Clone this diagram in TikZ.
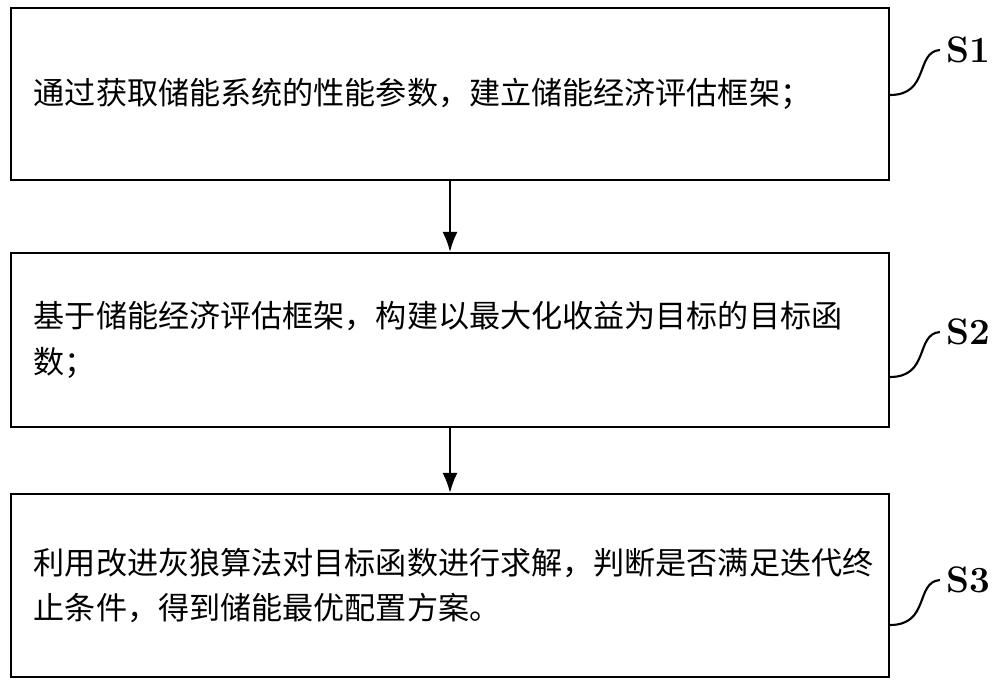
\documentclass[tikz,border=0pt]{standalone}
\usepackage{fontspec}
\newfontfamily\cjk{Noto Sans CJK SC}
\usetikzlibrary{positioning,arrows.meta}
\tikzset{stepbox/.style={draw,line width=1.2pt,minimum width=17.55cm,inner xsep=0.45cm,text width=16.65cm,align=left,font=\cjk\fontsize{17.7}{26}\selectfont},
 steplabel/.style={font=\bfseries\fontsize{21}{22}\selectfont}}
\begin{document}
\begin{tikzpicture}[x=0.02cm,y=-0.02cm]
 		\useasboundingbox (0,0) rectangle (1000,686);
 		\node[stepbox,minimum height=3.44cm] (b1) at (450,94) {通过获取储能系统的性能参数，建立储能经济评估框架；};
 		\node[stepbox,minimum height=3.48cm] (b2) at (450,340) {基于储能经济评估框架，构建以最大化收益为目标的目标函\\数；};
 		\node[stepbox,minimum height=3.66cm] (b3) at (450,585.5) {利用改进灰狼算法对目标函数进行求解，判断是否满足迭代终\\止条件，得到储能最优配置方案。};

 		\draw[line width=1.2pt,-{Latex[length=4mm,width=3mm]}] (b1) -- (b2);
 		\draw[line width=1.2pt,-{Latex[length=4mm,width=3mm]}] (b2) -- (b3);

 		\node[steplabel] (s1) at (968,50) {S1};
 		\node[steplabel] (s2) at (968,332) {S2};
 		\node[steplabel] (s3) at (968,580) {S3};

 		\coordinate (c1) at (890,95);
 		\coordinate (c2) at (890,377);
 		\coordinate (c3) at (890,625);
 		\draw[line width=1.2pt] (c1) .. controls (930,95) and (915,52) .. (s1.west);
 		\draw[line width=1.2pt] (c2) .. controls (930,377) and (915,334) .. (s2.west);
 		\draw[line width=1.2pt] (c3) .. controls (930,625) and (915,582) .. (s3.west);
 	 \end{tikzpicture}
\end{document}
